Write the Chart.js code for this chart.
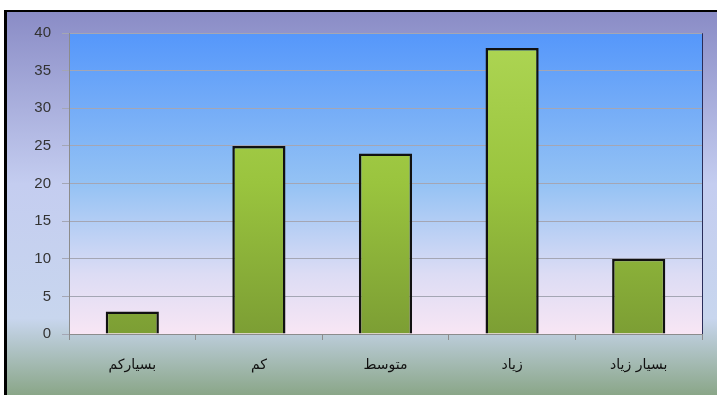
<!DOCTYPE html>
<html>
<head>
<meta charset="utf-8">
<script src="https://cdn.jsdelivr.net/npm/chart.js@4"></script>
<style>
  body { margin: 0; background: #fff; }
  #wrap { width: 717px; height: 395px; position: relative; }
</style>
</head>
<body>
<div id="wrap"><canvas id="myChart" width="717" height="395"></canvas></div>
<script>
const categories = ['بسیارکم', 'کم', 'متوسط', 'زیاد', 'بسیار زیاد'];
const counts = [3, 25, 24, 38, 10];
const yTicks = [0, 5, 10, 15, 20, 25, 30, 35, 40];

const ctx = document.getElementById('myChart');

// backgrounds: outer frame and plot area gradients
const bgPlugin = {
  id: 'bg',
  beforeDraw(chart) {
    const c = chart.ctx, a = chart.chartArea;
    c.save();
    c.fillStyle = '#fff';
    c.fillRect(0, 0, 717, 395);
    let g = c.createLinearGradient(0, 12, 0, 395);
    g.addColorStop(0, '#8a8cc6');
    g.addColorStop(0.45, '#c4cdf0');
    g.addColorStop(0.8, '#c8d6ee');
    g.addColorStop(1, '#8aa688');
    c.fillStyle = g;
    c.fillRect(6, 12, 711, 383);
    c.fillStyle = '#000';
    c.fillRect(4, 10, 713, 2);
    c.fillRect(4, 10, 3, 385);
    g = c.createLinearGradient(0, a.top, 0, a.bottom);
    g.addColorStop(0, '#5597fb');
    g.addColorStop(0.5, '#94c2f4');
    g.addColorStop(0.8, '#dcdcf4');
    g.addColorStop(1, '#f8e6f4');
    c.fillStyle = g;
    c.fillRect(a.left, a.top, a.right - a.left, a.bottom - a.top);
    c.strokeStyle = '#2a2d5a';
    c.lineWidth = 1;
    c.beginPath();
    c.moveTo(a.left, a.top + 0.5);
    c.lineTo(a.right + 0.5, a.top + 0.5);
    c.lineTo(a.right + 0.5, a.bottom);
    c.stroke();
    c.restore();
  }
};

function barFill(context) {
  const chart = context.chart;
  const a = chart.chartArea;
  if (!a) return '#98c03c';
  const g = chart.ctx.createLinearGradient(0, a.top, 0, a.bottom);
  g.addColorStop(0, '#aed654');
  g.addColorStop(0.5, '#9ac43e');
  g.addColorStop(1, '#7c9e34');
  return g;
}

new Chart(ctx, {
  type: 'bar',
  data: {
    labels: categories,
    datasets: [{
      data: counts,
      backgroundColor: barFill,
      borderColor: '#111',
      borderWidth: 2.5,
      borderSkipped: 'bottom',
      barPercentage: 0.84,
      categoryPercentage: 0.5
    }]
  },
  plugins: [bgPlugin],
  options: {
    responsive: false,
    animation: false,
    layout: { padding: { top: 33, right: 15, left: 0, bottom: 0 } },
    plugins: { legend: { display: false }, tooltip: { enabled: false } },
    scales: {
      x: {
        afterFit(s) { s.height = 61; },
        grid: { display: true, drawOnChartArea: false, offset: true, color: '#8c8c8c', tickLength: 6 },
        border: { color: '#8c8c8c' },
        ticks: { color: '#111', padding: 17, font: { family: 'DejaVu Sans', size: 14 } }
      },
      y: {
        min: 0, max: 40,
        afterFit(s) { s.width = 69; },
        afterBuildTicks(s) { s.ticks = yTicks.map(v => ({ value: v })); },
        grid: { color: '#a4a6b4', tickLength: 7 },
        border: { color: '#8c8c8c' },
        ticks: { color: '#333', padding: 11, font: { family: 'Liberation Sans', size: 15 } }
      }
    }
  }
});
</script>
</body>
</html>
